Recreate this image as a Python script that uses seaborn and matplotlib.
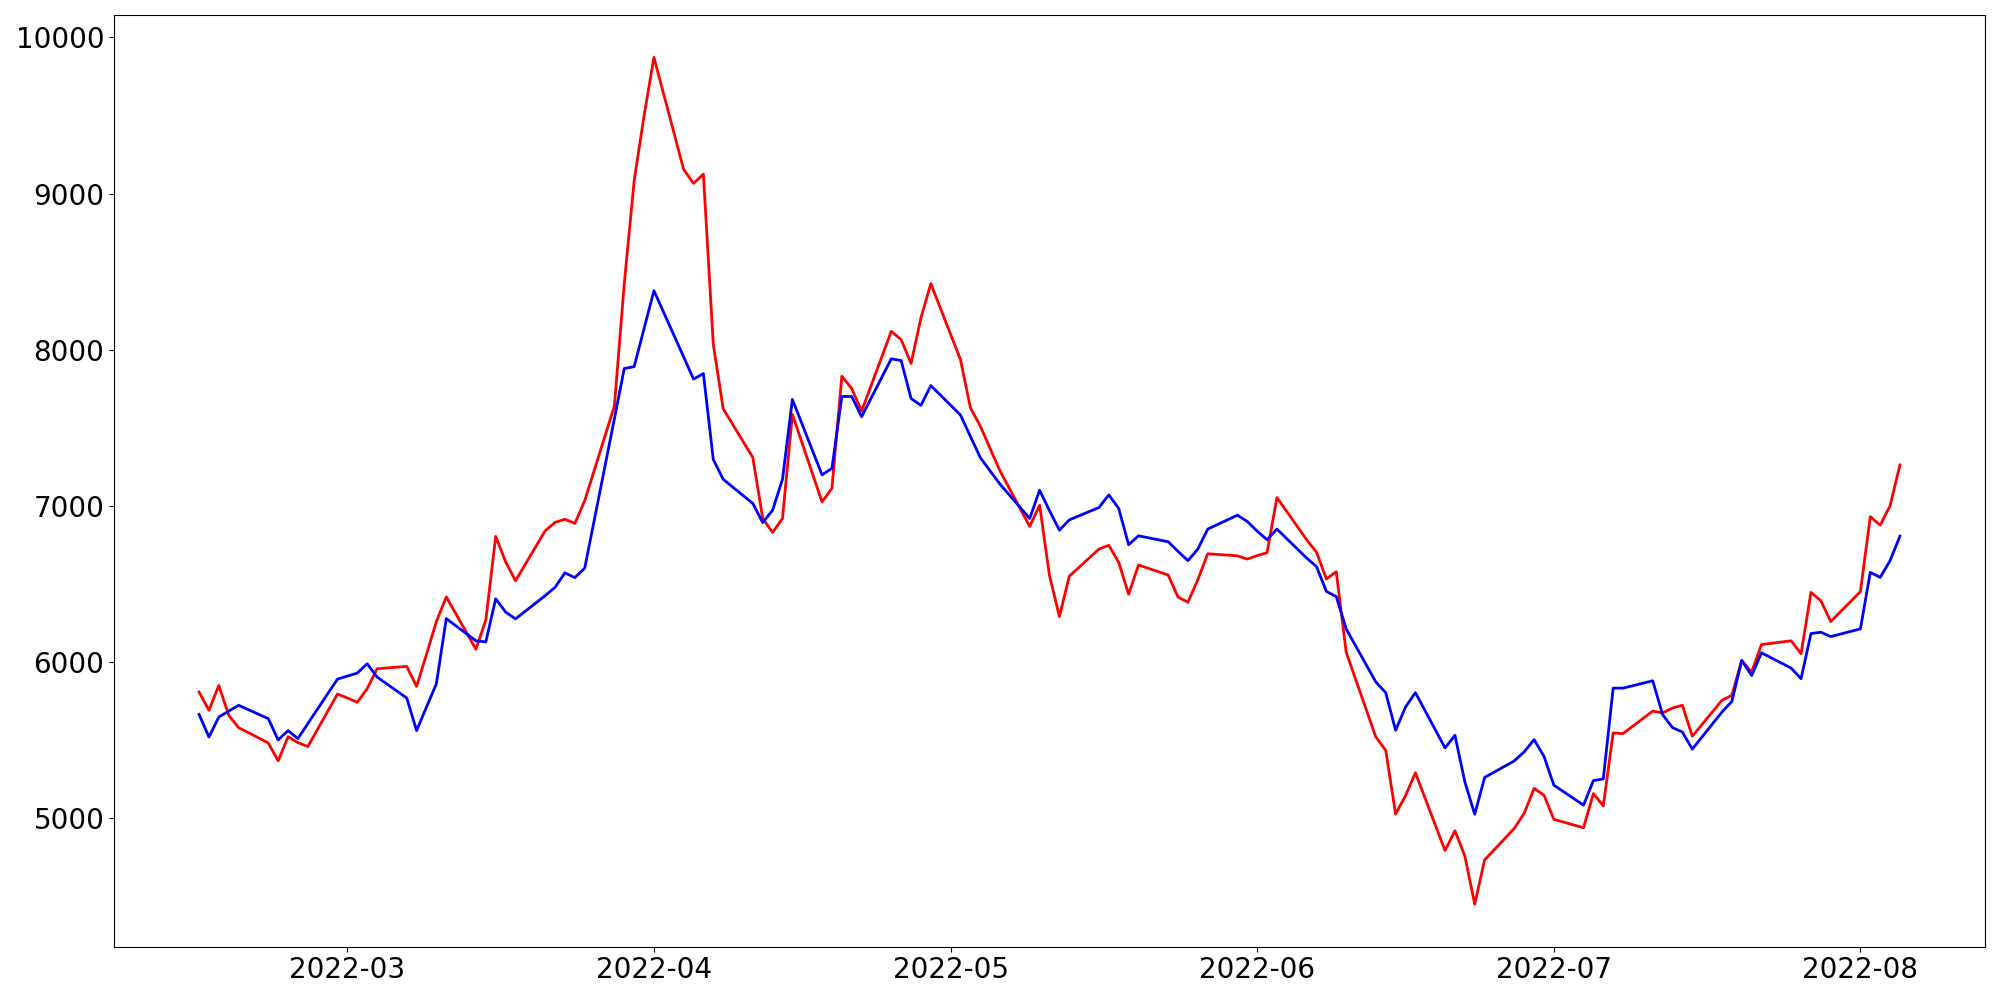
"""Two daily series (red / blue), Feb-Aug 2022, business days."""

import matplotlib

matplotlib.use("Agg")
import matplotlib.pyplot as plt
import pandas as pd
import seaborn as sns

START_DATE = "2022-02-14"
END_DATE = "2022-08-05"

# red series, one value per weekday
red_values = [
    5809, 5692, 5851, 5660, 5581, 5483, 5368, 5523, 5485, 5460, 5796,
    5771, 5743, 5830, 5958, 5973, 5845, 6050, 6260, 6418, 6083, 6270, 6805,
    6643, 6521, 6841, 6895, 6915, 6888, 7034, 7640, 8423, 9082, 9498,
    9872, 9155, 9065, 9124, 8036, 7623, 7310, 6920, 6831, 6920, 7586, 7026,
    7114, 7831, 7752, 7607, 8118, 8065, 7912, 8204, 8423,
    7937, 7629, 7512, 7367, 7224, 6869, 7005, 6554, 6292, 6550, 6724, 6748,
    6639, 6435, 6622, 6558, 6416, 6384, 6528, 6694, 6681, 6660,
    6682, 6701, 7054, 6784, 6705, 6533, 6579, 6064, 5521, 5436, 5028, 5145,
    5292, 4794, 4921, 4759, 4451, 4734, 4936, 5032, 5192, 5149,
    4994, 4940, 5159, 5080, 5547, 5543, 5687, 5675, 5707, 5724, 5526, 5756,
    5788, 6011, 5937, 6113, 6137, 6054, 6447, 6394, 6260,
    6452, 6931, 6877, 7001, 7263,
]

# blue series
blue_values = [
    5666, 5521, 5649, 5687, 5724, 5639, 5502, 5562, 5511, 5607, 5892,
    5911, 5930, 5990, 5905, 5771, 5562, 5713, 5862, 6279, 6137, 6130, 6406,
    6321, 6277, 6426, 6479, 6572, 6541, 6602, 7558, 7880, 7892, 8135,
    8378, 7955, 7812, 7848, 7298, 7171, 7016, 6894, 6973, 7171, 7682, 7199,
    7241, 7701, 7701, 7571, 7942, 7931, 7688, 7644, 7771,
    7582, 7446, 7310, 7224, 7139, 6920, 7101, 6970, 6845, 6911, 6990, 7071,
    6984, 6752, 6809, 6771, 6709, 6650, 6724, 6852, 6941, 6901,
    6839, 6784, 6852, 6667, 6612, 6453, 6420, 6213, 5873, 5805, 5564, 5713,
    5805, 5451, 5532, 5234, 5026, 5262, 5368, 5426, 5504, 5398,
    5213, 5085, 5242, 5253, 5834, 5834, 5881, 5664, 5581, 5553, 5443, 5681,
    5749, 6011, 5915, 6060, 5962, 5894, 6183, 6192, 6164,
    6213, 6575, 6543, 6650, 6807,
]


def main() -> None:
    dates = pd.bdate_range(START_DATE, END_DATE)
    df = pd.DataFrame({"date": dates, "red": red_values, "blue": blue_values})

    fig, ax = plt.subplots(figsize=(20, 10), dpi=100)
    sns.lineplot(data=df, x="date", y="red", color="red", linewidth=2, ax=ax)
    sns.lineplot(data=df, x="date", y="blue", color="blue", linewidth=2, ax=ax)

    ax.set_xlabel("")
    ax.set_ylabel("")
    ax.tick_params(axis="both", labelsize=20)

    fig.subplots_adjust(left=0.057, right=0.9925, top=0.985, bottom=0.0535)
    fig.savefig("out.png", dpi=100)
    plt.close(fig)


if __name__ == "__main__":
    main()
